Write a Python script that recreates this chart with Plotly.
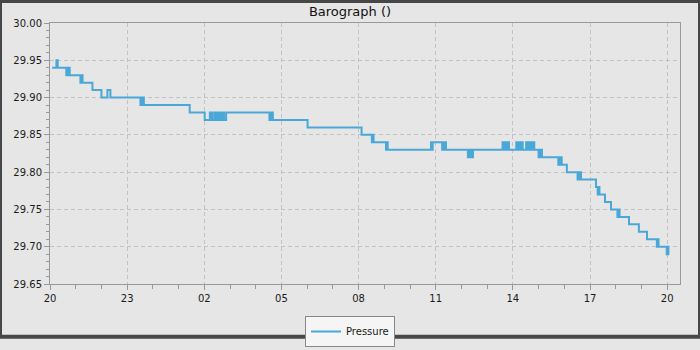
import pandas as pd
import plotly.graph_objects as go

# Minutes after 20:00 on the first day, and barometric pressure (inHg)
minutes = [5, 15, 18, 38, 40, 42, 44, 46, 71, 73, 76, 99, 120, 134, 141,
           211, 213, 215, 217, 219, 326, 361,
           373, 375, 377, 379, 384, 386, 388, 390, 392, 394, 396, 398, 400, 402, 404, 406, 411,
           512, 514, 516, 518, 520, 601, 727, 751, 753, 755, 784, 786, 788,
           889, 891, 893, 915, 917, 919, 921, 924,
           975, 977, 979, 981, 983, 985, 987,
           1056, 1058, 1060, 1062, 1064, 1066, 1068, 1071,
           1088, 1090, 1092, 1094, 1096, 1098, 1100, 1103,
           1111, 1113, 1115, 1117, 1120, 1122, 1124, 1126, 1128, 1130,
           1140, 1142, 1144, 1146, 1148, 1186, 1188, 1190, 1192, 1194, 1206,
           1231, 1233, 1235, 1237, 1239, 1274, 1278, 1280, 1282, 1295, 1309,
           1324, 1326, 1329, 1351, 1374, 1393, 1416, 1418, 1420,
           1439, 1441, 1443, 1445]
pressure = [29.94, 29.95, 29.94, 29.93, 29.94, 29.93, 29.94, 29.93, 29.92, 29.93, 29.92, 29.91, 29.90, 29.91, 29.90,
            29.89, 29.90, 29.89, 29.90, 29.89, 29.88, 29.87,
            29.88, 29.87, 29.88, 29.87, 29.88, 29.87, 29.88, 29.87, 29.88, 29.87, 29.88, 29.87, 29.88, 29.87, 29.88, 29.87, 29.88,
            29.87, 29.88, 29.87, 29.88, 29.87, 29.86, 29.85, 29.84, 29.85, 29.84, 29.83, 29.84, 29.83,
            29.84, 29.83, 29.84, 29.83, 29.84, 29.83, 29.84, 29.83,
            29.82, 29.83, 29.82, 29.83, 29.82, 29.82, 29.83,
            29.84, 29.83, 29.84, 29.83, 29.84, 29.83, 29.84, 29.83,
            29.84, 29.83, 29.84, 29.83, 29.84, 29.83, 29.84, 29.83,
            29.84, 29.83, 29.84, 29.83, 29.84, 29.83, 29.84, 29.83, 29.84, 29.83,
            29.82, 29.83, 29.82, 29.83, 29.82, 29.81, 29.82, 29.81, 29.82, 29.81, 29.80,
            29.79, 29.80, 29.79, 29.80, 29.79, 29.78, 29.77, 29.78, 29.77, 29.76, 29.75,
            29.74, 29.75, 29.74, 29.73, 29.72, 29.71, 29.70, 29.71, 29.70,
            29.69, 29.70, 29.69, 29.69]

start = pd.Timestamp("2024-01-01 20:00")
times = start + pd.to_timedelta(minutes, unit="min")

title_text = "Barograph ()"
series_name = "Pressure"
y_ticks = [29.65, 29.70, 29.75, 29.80, 29.85, 29.90, 29.95, 30.00]

FONT = "DejaVu Sans"
AX = "#999999"

fig = go.Figure()
fig.add_trace(go.Scatter(
    x=times, y=pressure, mode="lines", name=series_name,
    line=dict(color="#4aa8d8", width=2, shape="hv"),
))

W, H = 700, 350
ml, mr, mt, mb = 50, 20, 23, 55
pw, ph = W - ml - mr, H - mt - mb

fig.update_layout(
    width=W, height=H,
    margin=dict(l=ml, r=mr, t=mt, b=mb, pad=0),
    paper_bgcolor="#e6e6e6", plot_bgcolor="#e6e6e6",
    font=dict(family=FONT, size=10, color="#1a1a1a"),
    title=dict(text=title_text, x=0.5, xref="container", xanchor="center",
               y=1 - 11 / H, yref="container", yanchor="middle",
               font=dict(family=FONT, size=13, color="#111111")),
    showlegend=True,
    legend=dict(orientation="h", xref="container", yref="container",
                x=0.5, xanchor="center", y=3 / H, yanchor="bottom",
                bgcolor="#f5f5f5", bordercolor="#888888", borderwidth=1,
                font=dict(family=FONT, size=10, color="#1a1a1a"),
                itemwidth=30, tracegroupgap=0),
    xaxis=dict(
        type="date",
        range=[start, start + pd.Timedelta(minutes=30 + 24 * 60)],
        tick0=start, dtick=3 * 3600000, tickformat="%H",
        showline=True, linecolor=AX, linewidth=1, mirror=True,
        ticks="outside", ticklen=5, tickcolor=AX,
        showgrid=True, gridcolor="#c2c2c2", griddash="4px,3px", gridwidth=1,
        zeroline=False,
        tickfont=dict(family=FONT, size=10, color="#1a1a1a"),
        minor=dict(dtick=3600000, ticks="outside", ticklen=4, tickcolor=AX, showgrid=False),
    ),
    yaxis=dict(
        range=[29.65, 30.00],
        tickvals=y_ticks, tickformat=".2f",
        showline=True, linecolor=AX, linewidth=1, mirror=True,
        ticks="outside", ticklen=5, tickcolor=AX,
        showgrid=True, gridcolor="#c2c2c2", griddash="4px,3px", gridwidth=1,
        zeroline=False,
        tickfont=dict(family=FONT, size=10, color="#1a1a1a"),
        minor=dict(dtick=0.01, tick0=29.65, ticks="outside", ticklen=3, tickcolor=AX, showgrid=False),
    ),
    hovermode=False,
)

# Outer dark frame around the whole figure
fig.add_shape(type="rect", xref="paper", yref="paper",
              x0=-ml / pw, x1=1 + mr / pw, y0=-mb / ph, y1=1 + mt / ph,
              line=dict(color="#474747", width=4), fillcolor="rgba(0,0,0,0)",
              layer="above")

fig.write_html("out.html")
